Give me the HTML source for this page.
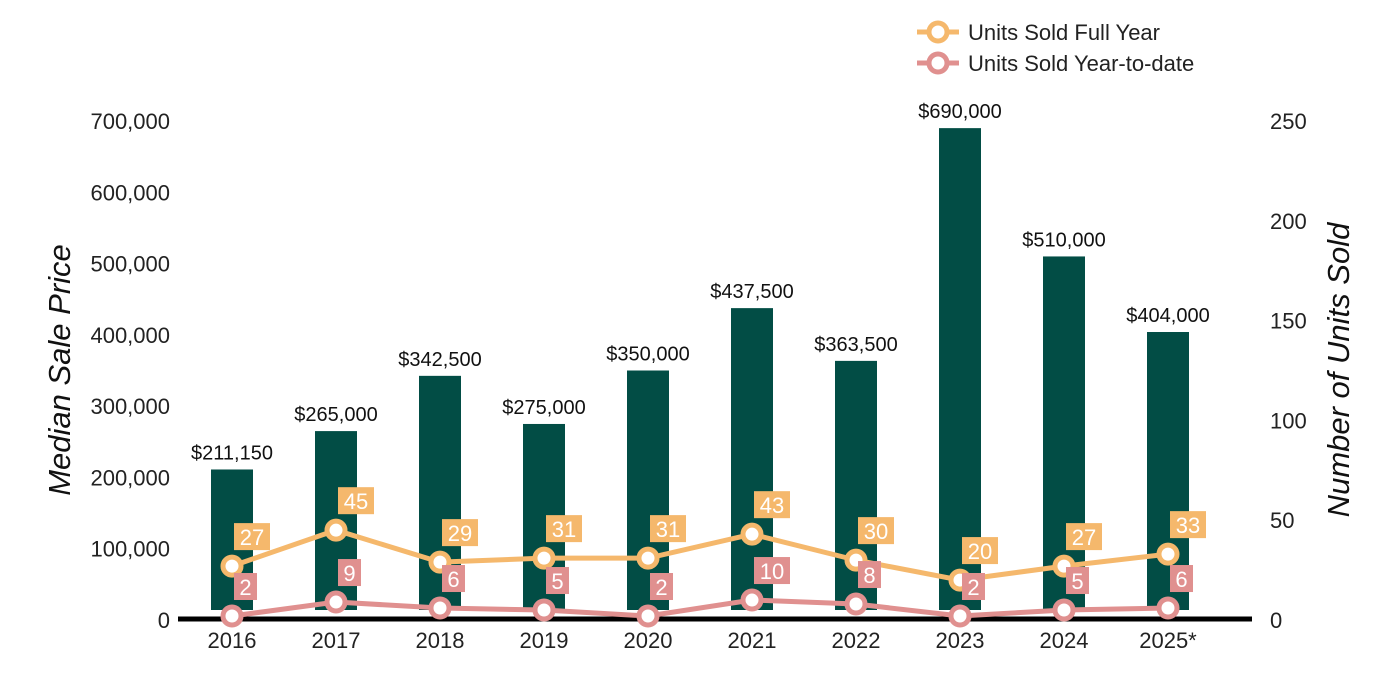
<!DOCTYPE html>
<html><head><meta charset="utf-8"><style>
body{margin:0;background:#fff;}
svg{display:block;font-family:"Liberation Sans",Arial,sans-serif;}
</style></head><body>
<svg id="chart" width="1400" height="700">
<g id="g"></g>
</svg>
<script>
const years=["2016","2017","2018","2019","2020","2021","2022","2023","2024","2025*"];
const prices=[211150,265000,342500,275000,350000,437500,363500,690000,510000,404000];
const fullYear=[27,45,29,31,31,43,30,20,27,33];
const ytd=[2,9,6,5,2,10,8,2,5,6];
const leftTicks=[0,100000,200000,300000,400000,500000,600000,700000];
const rightTicks=[0,50,100,150,200,250];

const NS="http://www.w3.org/2000/svg";
const g=document.getElementById('g');
function el(t,a,txt){const e=document.createElementNS(NS,t);for(const k in a)e.setAttribute(k,a[k]);if(txt!==undefined)e.textContent=txt;g.appendChild(e);return e;}
const y0=620,yTop=121;
const yL=v=>y0-v/700000*(y0-yTop);
const yR=v=>y0-v/250*(y0-yTop);
const xC=i=>232+i*104;
const fmt=n=>n.toLocaleString('en-US');

leftTicks.forEach(t=>{const e=el('text',{x:170,y:yL(t)+8,'text-anchor':'end','font-size':22,fill:'#222'},fmt(t));

});
rightTicks.forEach(t=>{const e=el('text',{x:1270,y:yR(t)+8,'font-size':22,fill:'#222'},t);

});
let t=el('text',{transform:'translate(70,370) rotate(-90)','text-anchor':'middle','font-size':31,'font-style':'italic',fill:'#111'},'Median Sale Price');


t=el('text',{transform:'translate(1349,370) rotate(-90)','text-anchor':'middle','font-size':31,'font-style':'italic',fill:'#111'},'Number of Units Sold');



prices.forEach((p,i)=>{
 const b=el('rect',{x:xC(i)-21,y:yL(p),width:42,height:610-yL(p),fill:'#024d45'});
 
 
 const l=el('text',{x:xC(i),y:yL(p)-10,'text-anchor':'middle','font-size':20,fill:'#111'},'$'+fmt(p));
 
 
});
const ax=el('line',{x1:178,x2:1252,y1:619,y2:619,stroke:'#000','stroke-width':5});


years.forEach((yv,i)=>{const e=el('text',{x:xC(i),y:648,'text-anchor':'middle','font-size':22,fill:'#222'},yv);

});

function series(vals,color,name){
 const pl=el('polyline',{points:vals.map((v,i)=>xC(i)+','+yR(v)).join(' '),fill:'none',stroke:color,'stroke-width':5});
 
 
 vals.forEach((v,i)=>{
  const c=el('circle',{cx:xC(i),cy:yR(v),r:9,fill:'#fff',stroke:color,'stroke-width':5});
  
  
  const w=String(v).length>1?36:23;
  const r=el('rect',{x:xC(i)+2,y:yR(v)-43,width:w,height:27,fill:color});
  
  
  const tx=el('text',{x:xC(i)+2+w/2,y:yR(v)-21,'text-anchor':'middle','font-size':22,fill:'#fff'},v);
  
  
 });
}
series(fullYear,'#f5b86c','full-year');
series(ytd,'#e0908f','ytd');

[['Units Sold Full Year','#f5b86c',32],['Units Sold Year-to-date','#e0908f',63]].forEach(([n,c,y])=>{
 const l=el('line',{x1:917,x2:959,y1:y,y2:y,stroke:c,'stroke-width':5});
 
 
 const ci=el('circle',{cx:938,cy:y,r:9,fill:'#fff',stroke:c,'stroke-width':5});
 
 
 const tx=el('text',{x:968,y:y+8,'font-size':22,fill:'#222'},n);
 
 
});
</script>
</body></html>
